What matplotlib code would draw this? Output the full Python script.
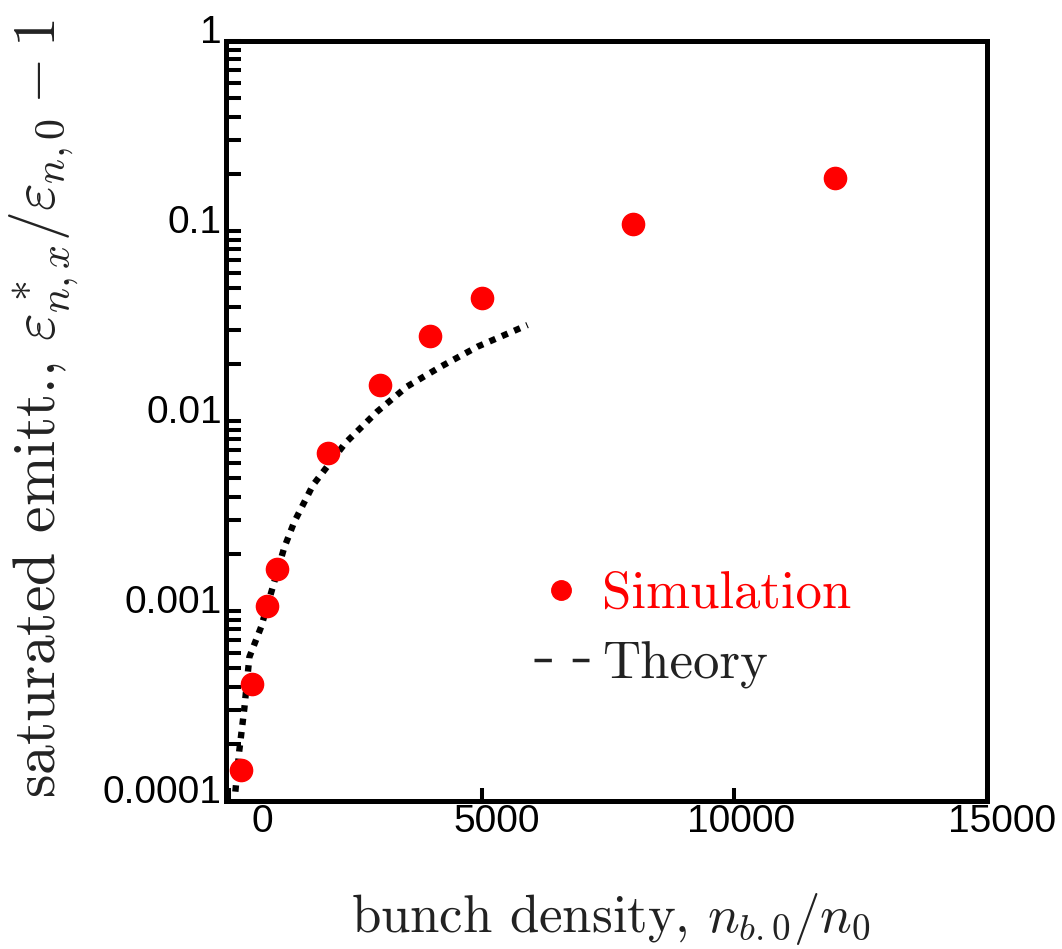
import numpy as np
import matplotlib
matplotlib.use('Agg')
import matplotlib.pyplot as plt
from matplotlib.lines import Line2D
from matplotlib.transforms import ScaledTranslation

plt.rcParams['mathtext.fontset'] = 'cm'
plt.rcParams['axes.unicode_minus'] = False

# simulation points
sim_x = [240, 460, 750, 950, 1950, 2980, 3970, 5000, 8000, 12000]
sim_y = [1.46e-4, 4.13e-4, 1.06e-3, 1.66e-3, 6.79e-3, 1.55e-2, 2.80e-2, 4.44e-2, 0.109, 0.190]

# theory curve
th_x = [125, 204, 304, 403, 635, 867, 1091, 1290, 1661, 2302, 2931, 3526, 4187, 4915, 5907]
th_y = [1.12e-4, 1.85e-4, 3.09e-4, 5.73e-4, 8.24e-4, 1.34e-3, 2.15e-3, 2.94e-3, 4.60e-3,
        7.66e-3, 1.12e-2, 1.52e-2, 1.93e-2, 2.46e-2, 3.20e-2]

xticks = [0, 5000, 10000, 15000]
xticklabels = ['0', '5000', '10000', '15000']
yticks = [1e-4, 1e-3, 1e-2, 1e-1, 1]
yticklabels = ['0.0001', '0.001', '0.01', '0.1', '1']

fig = plt.figure(figsize=(10.62, 9.49), dpi=100)
ax = fig.add_axes([226/1062, 1-801/949, 761/1062, 760/949])

ax.plot(th_x, th_y, color='black', lw=4.6, linestyle=(0, (1, 1.1)),
        dash_capstyle='butt', label='Theory')
ax.plot(sim_x, sim_y, 'o', color='#ff0000', ms=16, label='Simulation')

ax.set_yscale('log')
ax.set_xlim(-60, 15000)
ax.set_ylim(1e-4, 1)

ax.set_xticks(xticks)
ax.set_xticklabels(xticklabels)
ax.set_yticks(yticks)
ax.set_yticklabels(yticklabels)
ax.yaxis.set_minor_locator(matplotlib.ticker.LogLocator(base=10, subs=np.arange(2, 10)))
ax.yaxis.set_minor_formatter(matplotlib.ticker.NullFormatter())

for s in ax.spines.values():
    s.set_linewidth(3.6)
ax.tick_params(which='both', direction='in', width=2.9, color='black')
ax.tick_params(axis='y', which='both', length=10.5, pad=3, labelsize=28)
ax.tick_params(axis='x', length=9.5, pad=2, labelsize=28)
xoffs = [0.33, 0.15, 0.07, 0.15]
for lab, dx in zip(ax.get_xticklabels(), xoffs):
    lab.set_fontfamily('Liberation Sans')
    lab.set_transform(lab.get_transform() + ScaledTranslation(dx, 0, fig.dpi_scale_trans))
for lab in ax.get_yticklabels():
    lab.set_fontfamily('Liberation Sans')
    lab.set_transform(lab.get_transform() + ScaledTranslation(0, 0.12, fig.dpi_scale_trans))

ax.set_xlabel(r'bunch density, $n_{b.0}/n_0$', fontsize=38, color='#222222',
              fontfamily='cmr10')
ax.set_ylabel(r'saturated emitt., $\varepsilon^*_{n,x}/\varepsilon_{n,0}-1$',
              fontsize=43, color='#222222', fontfamily='cmr10')
ax.xaxis.set_label_coords(0.505, -0.118)
ax.yaxis.set_label_coords(-0.19, 0.516)

handles = [Line2D([], [], color='#ff0000', marker='o', ms=14, ls='none'),
           Line2D([], [], color='#222222', lw=2.5, ls=(0, (5, 6)))]
leg = ax.legend(handles, ['Simulation', 'Theory'],
                loc='upper left', bbox_to_anchor=(0.342, 0.365), frameon=False,
                prop={'family': 'cmr10', 'size': 38}, handlelength=1.05,
                handletextpad=0.25, labelspacing=0.45,
                labelcolor=['#ff0000', '#222222'])

fig.savefig('out.png', dpi=100)
